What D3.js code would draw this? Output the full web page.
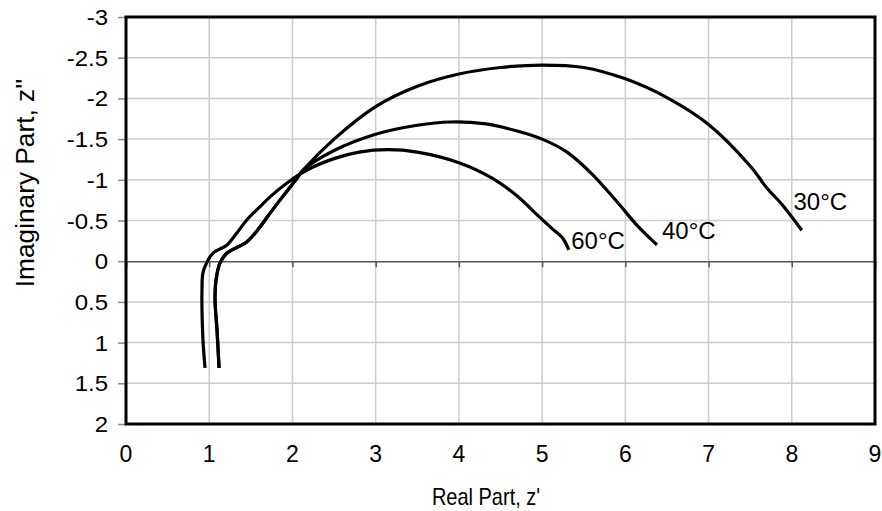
<!DOCTYPE html>
<html>
<head>
<meta charset="utf-8">
<script src="https://cdn.jsdelivr.net/npm/d3@7"></script>
<style>
  body { margin: 0; background: #fff; }
  svg text { font-family: "Liberation Sans", Arial, sans-serif; fill: #000; }
</style>
</head>
<body>
<div id="chart"></div>
<script>
// x ticks / y ticks
var xTicks = [0, 1, 2, 3, 4, 5, 6, 7, 8, 9];
var yTicks = [-3, -2.5, -2, -1.5, -1, -0.5, 0, 0.5, 1, 1.5, 2];

// Nyquist data: [real, imaginary]
var curve60 = [[0.95,1.31],[0.925,0.97],[0.913,0.35],[0.925,0.14],[0.974,0.01],[1.046,-0.10],
  [1.214,-0.20],[1.334,-0.35],[1.454,-0.51],[1.611,-0.67],[1.731,-0.79],[1.935,-0.96],
  [2.175,-1.12],[2.5,-1.26],[2.8,-1.34],[3.15,-1.37],[3.5,-1.34],[4.0,-1.21],
  [4.4,-1.02],[4.7,-0.80],[4.95,-0.56],[5.12,-0.40],[5.25,-0.28],[5.32,-0.14]];

var curve40 = [[1.118,1.31],[1.094,0.85],[1.07,0.48],[1.082,0.23],[1.13,0.02],[1.214,-0.10],
  [1.454,-0.24],[1.61,-0.42],[1.695,-0.54],[1.85,-0.75],[2.055,-1.02],[2.13,-1.12],
  [2.5,-1.36],[3.0,-1.56],[3.5,-1.67],[3.9,-1.71],[4.3,-1.69],[4.7,-1.60],
  [5.0,-1.50],[5.3,-1.34],[5.6,-1.07],[5.9,-0.73],[6.15,-0.43],[6.38,-0.2]];

var curve30 = [[1.118,1.31],[1.094,0.85],[1.07,0.48],[1.082,0.23],[1.13,0.02],[1.214,-0.10],
  [1.454,-0.24],[1.61,-0.42],[1.695,-0.54],[1.85,-0.75],[2.055,-1.02],[2.13,-1.12],
  [2.5,-1.50],[3.0,-1.90],[3.5,-2.15],[4.0,-2.30],[4.5,-2.38],[5.0,-2.41],
  [5.5,-2.38],[6.0,-2.24],[6.5,-2.01],[7.0,-1.68],[7.5,-1.17],[7.7,-0.90],
  [7.88,-0.70],[8.12,-0.38]];

var series = [
  { name: "30°C", pts: curve30, lab: [8.02, -0.63] },
  { name: "40°C", pts: curve40, lab: [6.44, -0.27] },
  { name: "60°C", pts: curve60, lab: [5.35, -0.15] }
];

var width = 882, height = 511;
var svg = d3.select("#chart").append("svg")
  .attr("width", width)
  .attr("height", height);

var x = d3.scaleLinear().domain([0, 9]).range([126, 875]);
var y = d3.scaleLinear().domain([-3, 2]).range([17, 424]);

// grid
svg.append("g").selectAll("line")
  .data(xTicks.slice(1, -1))
  .enter().append("line")
  .attr("x1", function(d) { return x(d); })
  .attr("x2", function(d) { return x(d); })
  .attr("y1", y(-3)).attr("y2", y(2))
  .attr("stroke", "#cccccc").attr("stroke-width", 1.5);

svg.append("g").selectAll("line")
  .data(yTicks.filter(function(d) { return d !== 0 && d !== -3 && d !== 2; }))
  .enter().append("line")
  .attr("x1", x(0)).attr("x2", x(9))
  .attr("y1", function(d) { return y(d); })
  .attr("y2", function(d) { return y(d); })
  .attr("stroke", "#cccccc").attr("stroke-width", 1.5);

// zero line with its ticks
var xAxis = d3.axisBottom(x).tickValues(xTicks).tickSize(6).tickFormat("");
var gx = svg.append("g").attr("transform", "translate(0," + y(0) + ")").call(xAxis);
gx.selectAll("path,line").attr("stroke", "#555").attr("stroke-width", 1.5);

// left ticks
var yAxis = d3.axisLeft(y).tickValues(yTicks).tickSize(8).tickFormat("");
var gy = svg.append("g").attr("transform", "translate(" + x(0) + ",0)").call(yAxis);
gy.select("path").remove();
gy.selectAll("line").attr("stroke", "#888").attr("stroke-width", 1.5);

// tick labels
svg.append("g").selectAll("text")
  .data(xTicks)
  .enter().append("text")
  .attr("x", function(d) { return x(d); })
  .attr("y", 462)
  .attr("text-anchor", "middle")
  .style("font-size", "23px")
  .text(function(d) { return d; });

svg.append("g").selectAll("text")
  .data(yTicks)
  .enter().append("text")
  .attr("transform", function(d) { return "translate(108," + (y(d) + 8) + ") scale(1,0.9)"; })
  .attr("text-anchor", "end")
  .style("font-size", "24px")
  .text(function(d) { return d; });

// frame
svg.append("rect")
  .attr("x", x(0)).attr("y", y(-3))
  .attr("width", x(9) - x(0)).attr("height", y(2) - y(-3))
  .attr("fill", "none").attr("stroke", "#000").attr("stroke-width", 3);

// curves
var line = d3.line()
  .x(function(d) { return x(d[0]); })
  .y(function(d) { return y(d[1]); })
  .curve(d3.curveCatmullRom);

svg.append("g").selectAll("path")
  .data(series)
  .enter().append("path")
  .attr("d", function(d) { return line(d.pts); })
  .attr("fill", "none")
  .attr("stroke", "#000")
  .attr("stroke-width", 3.2);

svg.append("g").selectAll("text")
  .data(series)
  .enter().append("text")
  .attr("x", function(d) { return x(d.lab[0]); })
  .attr("y", function(d) { return y(d.lab[1]); })
  .style("font-size", "24px")
  .text(function(d) { return d.name; });

// axis titles
svg.append("text")
  .attr("transform", "translate(486,505) scale(1,1.2)")
  .attr("text-anchor", "middle")
  .style("font-size", "20px")
  .text("Real Part, z'");

svg.append("text")
  .attr("transform", "translate(34,183) rotate(-90) scale(1.05,1)")
  .attr("text-anchor", "middle")
  .style("font-size", "25px")
  .text("Imaginary Part, z''");
</script>
</body>
</html>
